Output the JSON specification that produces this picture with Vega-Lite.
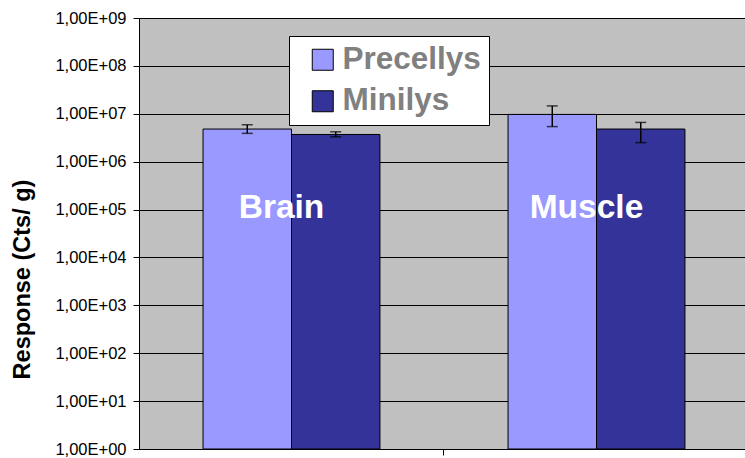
{
  "$schema": "https://vega.github.io/schema/vega-lite/v6.json",
  "width": 606,
  "height": 431,
  "autosize": "none",
  "padding": {"left": 139, "top": 18, "right": 0, "bottom": 9},
  "background": "white",
  "config": {
    "view": {"fill": "#C0C0C0", "stroke": null},
    "font": "Liberation Sans"
  },
  "data": {
    "values": [
      {"tissue": "Brain", "method": "Precellys", "value": 4800000, "lo": 3900000, "hi": 5900000},
      {"tissue": "Brain", "method": "Minilys", "value": 3700000, "lo": 3300000, "hi": 4200000},
      {"tissue": "Muscle", "method": "Precellys", "value": 9700000, "lo": 5400000, "hi": 14600000},
      {"tissue": "Muscle", "method": "Minilys", "value": 4800000, "lo": 2500000, "hi": 6600000}
    ]
  },
  "encoding": {
    "x": {
      "field": "tissue",
      "type": "nominal",
      "sort": ["Brain", "Muscle"],
      "scale": {"paddingInner": 0.42, "paddingOuter": 0.21, "range": [0, 610]},
      "axis": {
        "labels": false,
        "title": null,
        "values": ["Brain"],
        "bandPosition": 1.362,
        "tickSize": 6,
        "tickColor": "black",
        "domainColor": "black",
        "grid": false
      }
    }
  },
  "layer": [
    {
      "mark": {"type": "bar", "stroke": "black", "strokeWidth": 1},
      "encoding": {
        "xOffset": {"field": "method", "type": "nominal", "sort": ["Precellys", "Minilys"], "scale": {"paddingInner": 0, "paddingOuter": 0}},
        "y": {
          "field": "value",
          "type": "quantitative",
          "scale": {"type": "log", "domain": [1, 1000000000], "nice": false},
          "axis": {
            "values": [1, 10, 100, 1000, 10000, 100000, 1000000, 10000000, 100000000, 1000000000],
            "labelExpr": "'1,00E+' + (round(log(datum.value)/LN10) < 10 ? '0' : '') + round(log(datum.value)/LN10)",
            "grid": true,
            "gridColor": "black",
            "gridOpacity": 1,
            "gridWidth": 1,
            "domainColor": "black",
            "tickColor": "black",
            "tickSize": 6,
            "labelFont": "Liberation Sans",
            "labelFontSize": 16.5,
            "labelColor": "black",
            "labelPadding": 7,
            "title": "Response (Cts/ g)",
            "titleFont": "Liberation Sans",
            "titleFontSize": 23.5,
            "titleFontWeight": "bold",
            "titleColor": "black",
            "titleAngle": -90,
            "titleX": -105,
            "titleY": 261
          }
        },
        "y2": {"datum": 1},
        "color": {
          "field": "method",
          "type": "nominal",
          "sort": ["Precellys", "Minilys"],
          "scale": {"domain": ["Precellys", "Minilys"], "range": ["#9999FF", "#333399"]},
          "legend": {
            "title": null,
            "orient": "none",
            "legendX": 150,
            "legendY": 18,
            "fillColor": "white",
            "strokeColor": "black",
            "padding": 8,
            "symbolType": "square",
            "symbolSize": 441,
            "symbolStrokeColor": "black",
            "symbolStrokeWidth": 1,
            "symbolOffset": 10,
            "labelOffset": 4,
            "labelFont": "Liberation Sans",
            "labelFontSize": 31.5,
            "labelFontWeight": "bold",
            "labelColor": "#808080",
            "labelExpr": "datum.label + '\u00a0'",
            "rowPadding": 8.5
          }
        }
      }
    },
    {
      "mark": {"type": "rule", "color": "black", "strokeWidth": 1.5},
      "encoding": {
        "xOffset": {"field": "method", "type": "nominal", "sort": ["Precellys", "Minilys"]},
        "y": {"field": "lo", "type": "quantitative"},
        "y2": {"field": "hi"}
      }
    },
    {
      "mark": {"type": "tick", "color": "black", "size": 11, "thickness": 1.5},
      "encoding": {
        "xOffset": {"field": "method", "type": "nominal", "sort": ["Precellys", "Minilys"]},
        "y": {"field": "lo", "type": "quantitative"}
      }
    },
    {
      "mark": {"type": "tick", "color": "black", "size": 11, "thickness": 1.5},
      "encoding": {
        "xOffset": {"field": "method", "type": "nominal", "sort": ["Precellys", "Minilys"]},
        "y": {"field": "hi", "type": "quantitative"}
      }
    },
    {
      "transform": [{"filter": "datum.method == 'Precellys'"}],
      "mark": {"type": "text", "color": "white", "font": "Liberation Sans", "fontSize": 33.5, "fontWeight": "bold", "baseline": "alphabetic", "dx": -10},
      "encoding": {
        "text": {"field": "tissue"},
        "y": {"datum": 68000}
      }
    }
  ]
}
